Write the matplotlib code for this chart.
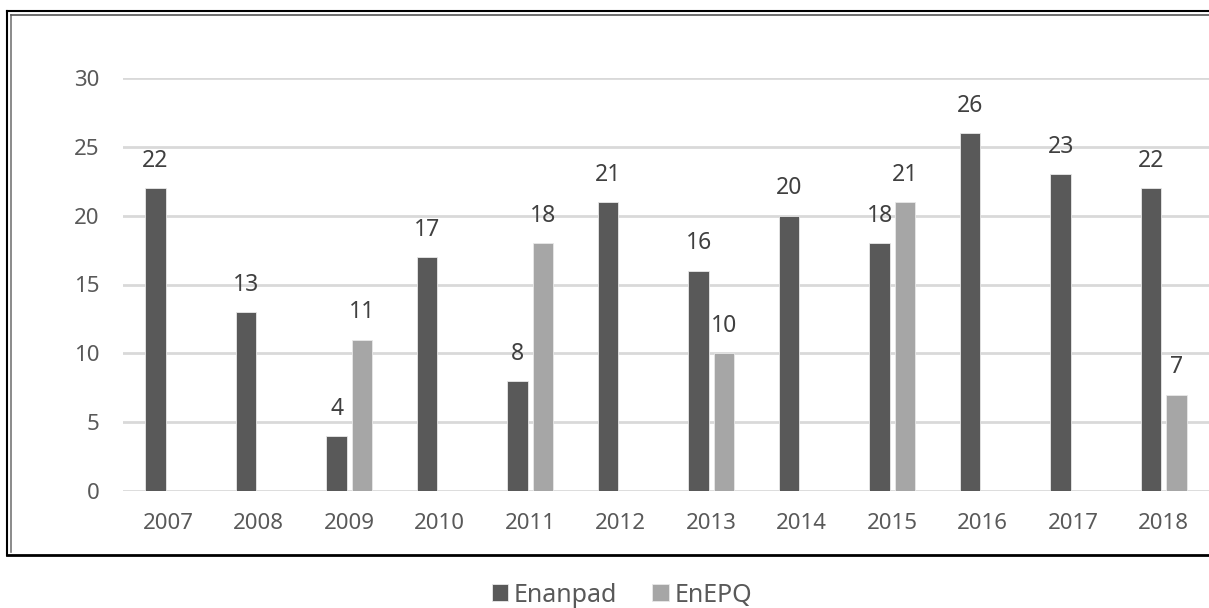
import numpy as np
import matplotlib as mpl
mpl.use("Agg")
import matplotlib.pyplot as plt
from matplotlib.lines import Line2D

years = ['2007', '2008', '2009', '2010', '2011', '2012',
         '2013', '2014', '2015', '2016', '2017', '2018']
enanpad = [22, 13, 4, 17, 8, 21, 16, 20, 18, 26, 23, 22]
enepq = [np.nan, np.nan, 11, np.nan, 18, np.nan, 10, np.nan, 21, np.nan, np.nan, 7]
y_ticks = [0, 5, 10, 15, 20, 25, 30]

dark = '#595959'
light = '#a6a6a6'
text_color = '#595959'
label_color = '#404040'

plt.rcParams['font.family'] = ['Noto Sans', 'DejaVu Sans']

W, H = 1209, 608
fig = plt.figure(figsize=(W / 100, H / 100), dpi=100)
ax = fig.add_axes([123 / W, 1 - 491 / H, 1 - 123 / W, (491 - 78) / H])

x = np.arange(len(years))
bw = 0.23
off = 0.14
b1 = ax.bar(x - off, enanpad, bw, color=dark, edgecolor='#e8e8e8', linewidth=0.6,
            label='Enanpad', zorder=3)
b2 = ax.bar(x + off, enepq, bw, color=light, edgecolor='#e8e8e8', linewidth=0.6,
            label='EnEPQ', zorder=3)

# data labels
for xi, v in zip(x, enanpad):
    ax.annotate(str(v), (xi - off, v), xytext=(0, 11), textcoords='offset points',
                ha='center', va='bottom', fontsize=16.5, color=label_color)
for xi, v in zip(x, enepq):
    if not np.isnan(v):
        ax.annotate(str(int(v)), (xi + off, v), xytext=(0, 11), textcoords='offset points',
                    ha='center', va='bottom', fontsize=16.5, color=label_color)

ax.set_xlim(-0.5, len(years) - 0.5)
ax.set_ylim(0, 30)
ax.set_yticks(y_ticks)
ax.set_xticks(x)
ax.set_xticklabels(years)
ax.yaxis.grid(True, color='#d9d9d9', linewidth=2, zorder=0)
ax.set_axisbelow(True)
for s in ax.spines.values():
    s.set_visible(False)
ax.tick_params(axis='both', length=0, labelsize=16, colors=text_color)
ax.tick_params(axis='y', pad=17)
ax.tick_params(axis='x', pad=16)
ax.patch.set_visible(False)

# legend below the frame
ax.legend(handles=[b1, b2], loc='center', bbox_to_anchor=(622 / W, 1 - 595 / H),
          bbox_transform=fig.transFigure, ncol=2, frameon=False, fontsize=18,
          handlelength=0.65, handleheight=0.65, handletextpad=0.25, columnspacing=1.4,
          labelcolor=text_color)

# chart frame (double line)
def fline(xs, ys, c, lw):
    fig.add_artist(Line2D([v / W for v in xs], [1 - v / H for v in ys],
                          color=c, linewidth=lw, transform=fig.transFigure))

fline([6.5, 6.5], [10.5, 554.5], 'black', 1.5)
fline([6.5, 1215], [10.5, 10.5], 'black', 1.5)
fline([6.5, 1215], [554.5, 554.5], 'black', 2)
fline([10.5, 10.5], [14.5, 552], '#777777', 1.2)
fline([10.5, 1215], [14.5, 14.5], '#555555', 1.2)

fig.savefig('out.png', dpi=100)
